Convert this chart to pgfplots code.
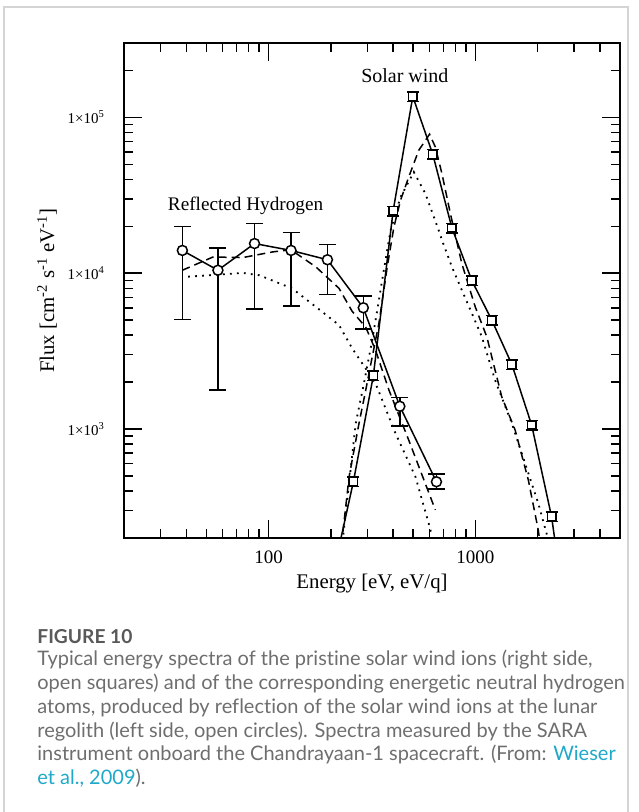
\documentclass[border=0pt]{standalone}
\usepackage{fontspec}
\setmainfont{Liberation Serif}
\newfontfamily\capfont[Ligatures=NoCommon]{Lato}
\usepackage{pgfplots}
\usepackage{pgfplotstable}
\pgfplotsset{compat=1.18}

\definecolor{capgray}{HTML}{6E6E6E}
\definecolor{figgray}{HTML}{595959}
\definecolor{linkcyan}{HTML}{1FA9C9}
\definecolor{framegray}{HTML}{D4D4D4}

% reflected hydrogen, open circles (E, flux, error +, error -)
\pgfplotstableread{
E     F      ep    em
38.3  14000  6000  8950
56.9  10450  4050  8670
85.5  15500  5300  9600
128.4 14000  4200  7860
192.6 12200  3100  4920
287   6000   1150  1630
431   1400   200   355
648   459    56    48
}\hydrogen

% solar wind, open squares
\pgfplotstableread{
E     F       r
257   459     0.07
321   2200    0.07
400   25100   0.07
498   136000  0.07
622   58000   0.07
770   19500   0.07
962   8940    0.07
1200  5000    0.07
1500  2600    0.07
1870  1062    0.07
2334  274     0.07
}\solarwind

\pgfplotstableread{
E     F
220   180
257   459
321   2200
400   25100
498   136000
622   58000
770   19500
962   8940
1200  5000
1500  2600
1870  1062
2334  274
2600  100
}\solarline

% model curves
\pgfplotstableread{
E     F
38.3  10450
53.8  12700
75    12600
104.7 13700
128   14150
169.4 10970
219   8000
253.4 5700
295   4500
329   3208
381.8 1780
476   849
640   303
}\hdashed

\pgfplotstableread{
E     F
40.8  9500
75    10040
90.3  9700
130   7980
169.4 6080
219   4650
253.4 3300
329   1963
411   937
513   494
594   249
617   205
}\hdotted

\pgfplotstableread{
E     F
225   180
245   494
273.6 1087
295   1780
317   2908
341.5 4765
374.6 10970
403.6 19800
434.5 29400
476   41400
532   61400
600   78000
640   64600
689   43500
756.6 24150
860   11500
998   6080
1135  3910
1340  1612
1556  986
1802  471
2013  225
2060  180
}\swdashed

\pgfplotstableread{
E     F
228   190
263.8 1087
289   1963
317   3720
341.5 6710
354   9020
389   18900
434.5 30800
503.6 44600
573   32400
664   18900
689   16300
770   10970
860   7780
962   5520
1074  3910
1245  2060
1500  1087
1738  603
2013  334
2208  214
2240  190
}\swdotted

\begin{document}
\begin{tikzpicture}
\begin{scope}[x=0.5pt,y=-0.5pt]
  \path[use as bounding box] (0,0) rectangle (638,812);
  \draw[framegray,line width=0.6pt] (4,830) -- (4,7) -- (628,7) -- (628,830);
  \node[anchor=base west,inner sep=0pt,text=figgray,font=\capfont\bfseries\fontsize{9.6}{12}\selectfont] at (37,643) {FIGURE 10};
  \begin{scope}[every node/.style={anchor=base west,inner sep=0pt,text=capgray,font=\capfont\fontsize{10}{12}\selectfont}]
    \node at (37,665) {Typical energy spectra of the pristine solar wind ions (right side,};
    \node at (37,689) {open squares) and of the corresponding energetic neutral hydrogen};
    \node at (37,713) {atoms, produced by reflection of the solar wind ions at the lunar};
    \node at (37,737) {regolith (left side, open circles). Spectra measured by the SARA};
    \node at (37,760) {instrument onboard the Chandrayaan-1 spacecraft. (From: \textcolor{linkcyan}{Wieser}};
    \node at (37,784) {\textcolor{linkcyan}{et al., 2009}).};
  \end{scope}
\end{scope}

\begin{axis}[
  at={(62pt,-269pt)}, anchor=south west,
  width=248pt, height=247.5pt, scale only axis,
  xmode=log, ymode=log,
  xmin=20, xmax=5000, ymin=200, ymax=3e5,
  axis line style={line width=0.75pt},
  tick style={line width=0.75pt, black},
  major tick length=9pt, minor tick length=4.5pt,
  tick align=inside,
  xtick={100,1000}, xticklabels={100,1000},
  minor xtick={30,40,50,60,70,80,90,200,300,400,500,600,700,800,900,2000,3000,4000},
  ytick={1000,10000,100000},
  yticklabels={1\texttimes 10\textsuperscript{3},1\texttimes 10\textsuperscript{4},1\texttimes 10\textsuperscript{5}},
  minor ytick={300,400,500,600,700,800,900,2000,3000,4000,5000,6000,7000,8000,9000,20000,30000,40000,50000,60000,70000,80000,90000,200000},
  xticklabel style={font=\fontsize{9.5}{11}\selectfont, yshift=-3pt},
  yticklabel style={font=\fontsize{7.5}{9}\selectfont, xshift=-6pt},
  xlabel={Energy [eV, eV/q]},
  ylabel={Flux [cm\textsuperscript{-2} s\textsuperscript{-1} eV\textsuperscript{-1}]},
  label style={font=\fontsize{10.4}{12}\selectfont},
  xlabel style={at={(axis description cs:0.5,-0.091)}, anchor=center},
  ylabel style={at={(axis description cs:-0.155,0.5)}, anchor=center},
  every axis plot/.append style={line width=0.75pt, black},
]
% model curves
\addplot[dash pattern=on 4pt off 2.5pt] table[x=E,y=F] {\hdashed};
\addplot[line width=0.9pt, dash pattern=on 0.9pt off 2.6pt] table[x=E,y=F] {\hdotted};
\addplot[dash pattern=on 4pt off 2.5pt] table[x=E,y=F] {\swdashed};
\addplot[line width=0.9pt, dash pattern=on 0.9pt off 2.6pt] table[x=E,y=F] {\swdotted};

% solar wind data
\addplot[solid] table[x=E,y=F] {\solarline};
\addplot[only marks, mark=square*, mark size=2.1pt, mark options={fill=white, solid},
  error bars/.cd, y dir=both, y explicit relative,
  error bar style={line width=0.75pt, solid},
  error mark options={rotate=90, mark size=3pt, line width=0.75pt}]
  table[x=E,y=F,y error=r] {\solarwind};

% reflected hydrogen data
\addplot[solid, mark=*, mark size=2.5pt, mark options={fill=white, solid},
  error bars/.cd, y dir=both, y explicit,
  error bar style={line width=0.75pt, solid},
  error mark options={rotate=90, mark size=4.25pt, line width=0.75pt}]
  table[x=E,y=F,y error plus=ep,y error minus=em] {\hydrogen};

\node[font=\fontsize{10}{12}\selectfont] at (axis cs:456,1.86e5) {Solar wind};
\node[font=\fontsize{9.6}{12}\selectfont] at (axis cs:77.4,27000) {Reflected Hydrogen};
\end{axis}
\end{tikzpicture}
\end{document}
